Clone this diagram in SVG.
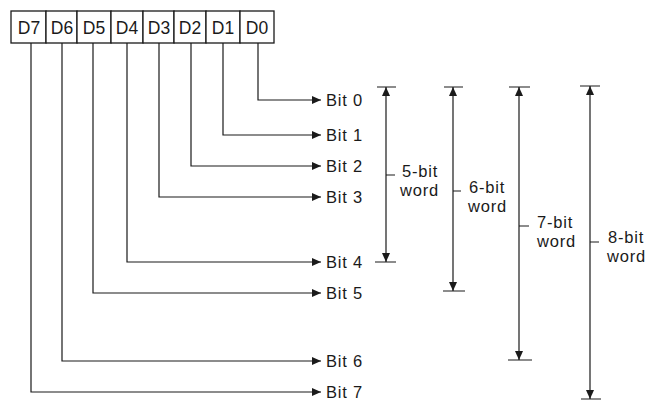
<svg xmlns="http://www.w3.org/2000/svg" width="654" height="406" viewBox="0 0 654 406">
<defs>
<style>
.ln{stroke:#1a1a1a;stroke-width:1.2;fill:none}
.cell{stroke:#1a1a1a;stroke-width:1.3;fill:#fff}
.t{font-family:"Liberation Sans",Arial,sans-serif;font-size:16.5px;fill:#1a1a1a;letter-spacing:0.8px}
.r{font-family:"Liberation Sans",Arial,sans-serif;font-size:17.5px;fill:#1a1a1a;text-anchor:middle}
</style>
<marker id="ah" markerWidth="10" markerHeight="8" refX="9" refY="4" orient="auto-start-reverse" markerUnits="userSpaceOnUse">
<path d="M0,0 L9,4 L0,8 Z" fill="#1a1a1a"/>
</marker>
</defs>
<rect width="654" height="406" fill="#fff"/>
<g id="register">
<rect class="cell" x="11" y="11" width="35" height="32"/>
<rect class="cell" x="46" y="11" width="31" height="32"/>
<rect class="cell" x="77" y="11" width="34" height="32"/>
<rect class="cell" x="111" y="11" width="32" height="32"/>
<rect class="cell" x="143" y="11" width="31" height="32"/>
<rect class="cell" x="174" y="11" width="32" height="32"/>
<rect class="cell" x="206" y="11" width="34" height="32"/>
<rect class="cell" x="240" y="11" width="34" height="32"/>
<text class="r" x="29" y="33.5">D7</text>
<text class="r" x="62" y="33.5">D6</text>
<text class="r" x="94" y="33.5">D5</text>
<text class="r" x="127" y="33.5">D4</text>
<text class="r" x="159" y="33.5">D3</text>
<text class="r" x="190" y="33.5">D2</text>
<text class="r" x="223" y="33.5">D1</text>
<text class="r" x="257" y="33.5">D0</text>
</g>
<g id="connectors">
<path class="ln" marker-end="url(#ah)" d="M258,43 V100 H321"/>
<path class="ln" marker-end="url(#ah)" d="M223,43 V135 H321"/>
<path class="ln" marker-end="url(#ah)" d="M191,43 V166 H321"/>
<path class="ln" marker-end="url(#ah)" d="M159,43 V197 H321"/>
<path class="ln" marker-end="url(#ah)" d="M127,43 V262 H321"/>
<path class="ln" marker-end="url(#ah)" d="M93,43 V293 H321"/>
<path class="ln" marker-end="url(#ah)" d="M62,43 V361 H321"/>
<path class="ln" marker-end="url(#ah)" d="M31,43 V392 H321"/>
</g>
<g id="bits">
<text class="t" x="326" y="106">Bit 0</text>
<text class="t" x="326" y="141">Bit 1</text>
<text class="t" x="326" y="172">Bit 2</text>
<text class="t" x="326" y="203">Bit 3</text>
<text class="t" x="326" y="268">Bit 4</text>
<text class="t" x="326" y="299">Bit 5</text>
<text class="t" x="326" y="367">Bit 6</text>
<text class="t" x="326" y="398">Bit 7</text>
</g>
<g id="word5">
<path class="ln" d="M377,87 H396 M375,262 H396 M386,175 H395"/>
<path class="ln" marker-start="url(#ah)" marker-end="url(#ah)" d="M386,87 V262"/>
<text class="t" x="402" y="177">5-bit</text>
<text class="t" x="400" y="196">word</text>
</g>
<g id="word6">
<path class="ln" d="M444,87 H463 M443,291 H465 M453,191 H461"/>
<path class="ln" marker-start="url(#ah)" marker-end="url(#ah)" d="M453,87 V291"/>
<text class="t" x="469" y="193">6-bit</text>
<text class="t" x="468" y="212">word</text>
</g>
<g id="word7">
<path class="ln" d="M509,87 H530 M508,360 H532 M519,226 H529"/>
<path class="ln" marker-start="url(#ah)" marker-end="url(#ah)" d="M519,87 V360"/>
<text class="t" x="537" y="228">7-bit</text>
<text class="t" x="537" y="247">word</text>
</g>
<g id="word8">
<path class="ln" d="M580,86 H600 M581,399 H601 M590,242 H599"/>
<path class="ln" marker-start="url(#ah)" marker-end="url(#ah)" d="M590,86 V399"/>
<text class="t" x="608" y="243">8-bit</text>
<text class="t" x="607" y="262">word</text>
</g>
</svg>
